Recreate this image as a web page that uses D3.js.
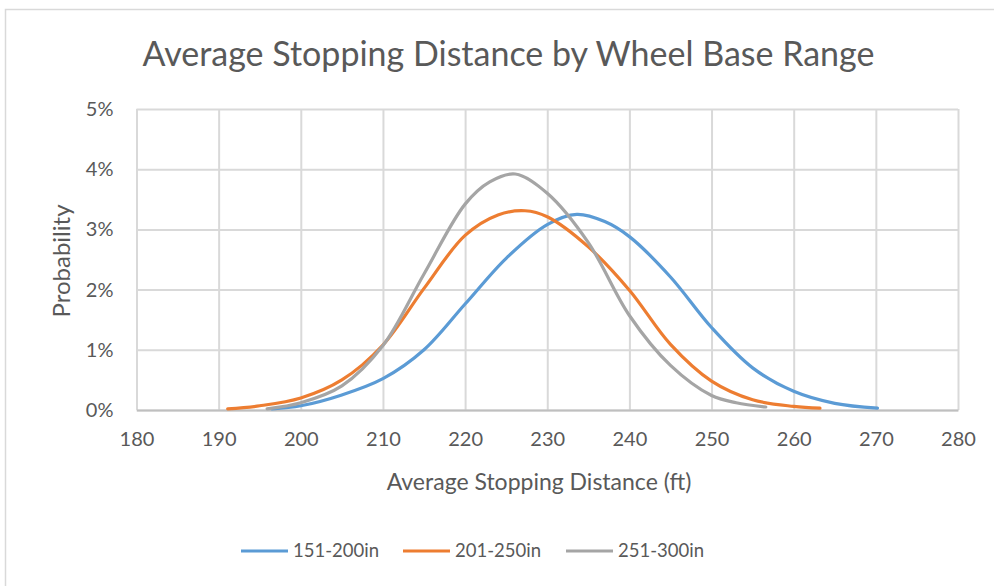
<!DOCTYPE html>
<html>
<head>
<meta charset="utf-8">
<script src="https://cdn.jsdelivr.net/npm/d3@7"></script>
<style>
  html, body { margin: 0; padding: 0; background: #ffffff; }
  svg { display: block; }
  text { font-family: Lato, "Open Sans", sans-serif; fill: #595959; }
</style>
</head>
<body>
<svg id="chart" width="994" height="586"></svg>
<script>
// Stopping distance (ft) and probability (%) for each wheel base range
const seriesNames = ["151-200in", "201-250in", "251-300in"];
const seriesColors = ["#5b9bd5", "#ed7d31", "#a5a5a5"];

const dist151 = [196.5, 200, 205, 210, 215, 220, 225, 230, 233.6, 237, 240, 245, 250, 255, 260, 265, 270.2];
const prob151 = [0.02, 0.07, 0.25, 0.52, 1.0, 1.76, 2.52, 3.08, 3.25, 3.13, 2.88, 2.21, 1.37, 0.7, 0.31, 0.11, 0.03];

const dist201 = [191.1, 195, 200, 205, 210, 215, 220, 224, 227.3, 230, 235, 240, 245, 250, 255, 260, 263.2];
const prob201 = [0.02, 0.07, 0.2, 0.5, 1.08, 2.02, 2.9, 3.24, 3.31, 3.21, 2.71, 1.99, 1.09, 0.48, 0.17, 0.06, 0.03];

const dist251 = [195.9, 200, 205, 210, 215, 220, 223, 226.1, 230, 235, 240, 245, 250, 253, 256.6];
const prob251 = [0.02, 0.12, 0.4, 1.07, 2.26, 3.42, 3.79, 3.92, 3.6, 2.78, 1.57, 0.74, 0.24, 0.12, 0.05];

const xTicks = [180, 190, 200, 210, 220, 230, 240, 250, 260, 270, 280];
const yTicks = [0, 1, 2, 3, 4, 5];

const titleText = "Average Stopping Distance by Wheel Base Range";
const xTitle = "Average Stopping Distance (ft)";
const yTitle = "Probability";

const series = [
  { name: seriesNames[0], color: seriesColors[0], xs: dist151, ys: prob151 },
  { name: seriesNames[1], color: seriesColors[1], xs: dist201, ys: prob201 },
  { name: seriesNames[2], color: seriesColors[2], xs: dist251, ys: prob251 }
];

const svg = d3.select("#chart");

// chart frame
svg.append("rect")
  .attr("x", 5.5).attr("y", 9.5)
  .attr("width", 1000).attr("height", 600)
  .attr("fill", "#ffffff")
  .attr("stroke", "#d9d9d9").attr("stroke-width", 1.5);

const plot = { left: 136.5, right: 958, top: 109, bottom: 410 };

const x = d3.scaleLinear().domain([180, 280]).range([plot.left, plot.right]);
const y = d3.scaleLinear().domain([0, 5]).range([plot.bottom, plot.top]);

// vertical gridlines
const xGrid = d3.axisBottom(x).tickValues(xTicks).tickSize(-(plot.bottom - plot.top)).tickFormat("");
svg.append("g")
  .attr("transform", `translate(0,${plot.bottom})`)
  .call(xGrid)
  .call(g => g.select(".domain").remove())
  .call(g => g.selectAll("line").attr("stroke", "#d9d9d9").attr("stroke-width", 2));

// horizontal gridlines
const yGrid = d3.axisLeft(y).tickValues(yTicks).tickSize(-(plot.right - plot.left)).tickFormat("");
svg.append("g")
  .attr("transform", `translate(${plot.left},0)`)
  .call(yGrid)
  .call(g => g.select(".domain").remove())
  .call(g => g.selectAll("line").attr("stroke", "#d9d9d9").attr("stroke-width", 2));

// x axis baseline and labels
const xAxis = d3.axisBottom(x).tickValues(xTicks).tickSize(0).tickPadding(22).tickFormat(d3.format("d"));
svg.append("g")
  .attr("transform", `translate(0,${plot.bottom})`)
  .call(xAxis)
  .call(g => g.select(".domain").attr("stroke", "#bfbfbf").attr("stroke-width", 2))
  .call(g => g.selectAll("text")
    .attr("font-size", 20).attr("fill", "#595959")
    .style("font-family", "Lato, 'Open Sans', sans-serif"));

// y axis labels
const yAxis = d3.axisLeft(y).tickValues(yTicks).tickSize(0).tickPadding(23).tickFormat(d => d + "%");
svg.append("g")
  .attr("transform", `translate(${plot.left},0)`)
  .call(yAxis)
  .call(g => g.select(".domain").remove())
  .call(g => g.selectAll("text")
    .attr("font-size", 20).attr("fill", "#595959")
    .style("font-family", "Lato, 'Open Sans', sans-serif"));

// curves
const line = d3.line()
  .x(d => x(d[0]))
  .y(d => y(d[1]))
  .curve(d3.curveCatmullRom.alpha(0.5));

series.forEach(s => {
  const pts = s.xs.map((v, i) => [v, s.ys[i]]);
  svg.append("path")
    .datum(pts)
    .attr("d", line)
    .attr("fill", "none")
    .attr("stroke", s.color)
    .attr("stroke-width", 3.2)
    .attr("stroke-linecap", "round")
    .attr("stroke-linejoin", "round");
});

// titles
svg.append("text")
  .attr("x", 508.5).attr("y", 66)
  .attr("text-anchor", "middle")
  .attr("font-size", 34)
  .text(titleText);

svg.append("text")
  .attr("x", 539).attr("y", 490)
  .attr("text-anchor", "middle")
  .attr("font-size", 23)
  .text(xTitle);

svg.append("text")
  .attr("transform", "translate(70,261) rotate(-90)")
  .attr("text-anchor", "middle")
  .attr("font-size", 24)
  .text(yTitle);

// legend
const legendX = [241, 403, 566];
const legend = svg.append("g");
series.forEach((s, i) => {
  const g = legend.append("g").attr("transform", `translate(${legendX[i]},551)`);
  g.append("line")
    .attr("x1", 0).attr("x2", 47).attr("y1", 0).attr("y2", 0)
    .attr("stroke", s.color).attr("stroke-width", 3.2);
  g.append("text")
    .attr("x", 52).attr("y", 0).attr("dy", "0.35em")
    .attr("font-size", 18.5)
    .text(s.name);
});
</script>
</body>
</html>
